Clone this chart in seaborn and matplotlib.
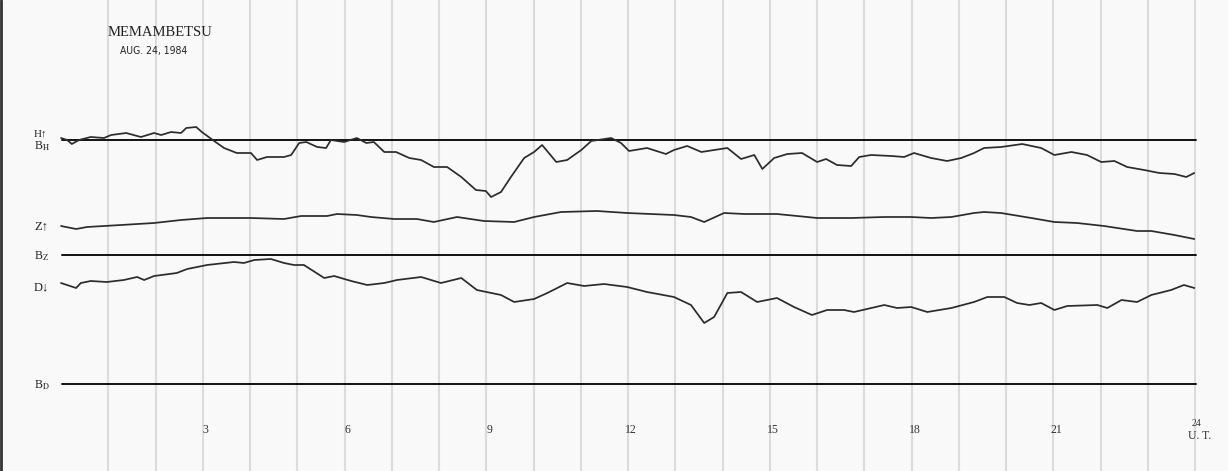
import matplotlib
matplotlib.use("Agg")
import matplotlib.pyplot as plt
import pandas as pd
import seaborn as sns

# magnetogram traces (hours UT, deflection above own baseline)
h_hours = [0.00, 0.13, 0.23, 0.38, 0.63, 0.91, 1.06, 1.38, 1.69, 1.97, 2.12, 2.33, 2.54, 2.65,
           2.86, 2.98, 3.24, 3.45, 3.72, 4.02, 4.15, 4.36, 4.72, 4.87, 5.04, 5.19, 5.42, 5.61,
           5.71, 5.99, 6.26, 6.46, 6.62, 6.84, 7.09, 7.37, 7.62, 7.89, 8.17, 8.47, 8.78, 8.99,
           9.10, 9.31, 9.52, 9.80, 10.01, 10.18, 10.48, 10.71, 11.01, 11.22, 11.64, 11.85,
           12.02, 12.40, 12.80, 12.97, 13.25, 13.55, 13.82, 14.10, 14.39, 14.67, 14.84, 15.09,
           15.37, 15.68, 16.00, 16.19, 16.42, 16.72, 16.89, 17.14, 17.57, 17.84, 18.05, 18.41,
           18.75, 19.05, 19.32, 19.53, 19.89, 20.34, 20.74, 21.02, 21.38, 21.71, 22.01, 22.29,
           22.56, 22.92, 23.24, 23.56, 23.81, 23.98]
h_dev = [2, 0, -4, 0, 3, 2, 5, 7, 3, 7, 5, 8, 7, 12,
         13, 8, -1, -8, -13, -13, -20, -17, -17, -15, -3, -2, -7, -8,
         0, -2, 2, -3, -2, -12, -12, -18, -20, -27, -27, -37, -50, -51,
         -57, -52, -37, -18, -12, -5, -22, -20, -10, -1, 2, -3,
         -11, -8, -14, -10, -6, -12, -10, -8, -19, -15, -29, -18,
         -14, -13, -22, -19, -25, -26, -17, -15, -16, -17, -13, -18,
         -21, -18, -13, -8, -7, -4, -8, -15, -12, -15, -22, -21,
         -27, -30, -33, -34, -37, -33]

z_hours = [0.00, 0.32, 0.55, 1.27, 1.97, 2.54, 3.09, 3.66, 4.02, 4.72, 5.08, 5.63, 5.84, 6.26,
           6.56, 7.05, 7.53, 7.89, 8.38, 8.95, 9.59, 10.01, 10.58, 11.34, 11.98, 12.97, 13.33,
           13.61, 14.03, 14.46, 15.15, 16.00, 16.72, 17.42, 17.99, 18.41, 18.84, 19.32, 19.53,
           19.89, 20.53, 21.02, 21.50, 22.07, 22.77, 23.07, 23.56, 23.98]
z_dev = [29, 26, 28, 30, 32, 35, 37, 37, 37, 36, 39, 39, 41, 40,
         38, 36, 36, 33, 38, 34, 33, 38, 43, 44, 42, 40, 38,
         33, 42, 41, 41, 37, 37, 38, 38, 37, 38, 42, 43,
         42, 37, 33, 32, 29, 24, 24, 20, 16]

d_hours = [0.00, 0.32, 0.42, 0.63, 0.97, 1.33, 1.61, 1.76, 1.97, 2.45, 2.67, 3.09, 3.66, 3.87,
           4.09, 4.44, 4.72, 4.93, 5.14, 5.57, 5.78, 6.14, 6.48, 6.84, 7.11, 7.62, 8.04, 8.47,
           8.80, 9.31, 9.59, 10.01, 10.29, 10.71, 11.07, 11.49, 11.98, 12.40, 12.97, 13.33,
           13.61, 13.82, 14.10, 14.39, 14.73, 15.15, 15.51, 15.89, 16.21, 16.57, 16.78, 17.42,
           17.69, 17.99, 18.33, 18.84, 19.32, 19.60, 19.96, 20.23, 20.49, 20.74, 21.02, 21.29,
           21.93, 22.14, 22.44, 22.77, 23.07, 23.49, 23.76, 23.98]
d_dev = [101, 96, 101, 103, 102, 104, 107, 104, 108, 111, 115, 119, 122, 121,
         124, 125, 121, 119, 119, 106, 108, 103, 99, 101, 104, 107, 101, 106,
         94, 89, 82, 85, 91, 101, 98, 100, 97, 92, 87, 79,
         61, 67, 91, 92, 82, 86, 77, 69, 74, 74, 72, 79,
         76, 77, 72, 76, 82, 87, 87, 81, 79, 81, 74, 78,
         79, 76, 84, 82, 89, 94, 99, 96]

hour_ticks = [3, 6, 9, 12, 15, 18, 21]

# layout on the sheet (pixels of the 1228x471 image)
W, H = 1228, 471
X0_PX, PX_PER_HOUR = 61, 47.26
BASE_H, BASE_Z, BASE_D = 140, 255, 384

SERIF = ["Liberation Serif", "DejaVu Serif"]
INK = "#2b2b2b"


def hx(px):
    return (px - X0_PX) / PX_PER_HOUR


def main():
    sns.set_theme(style="white")
    plt.rcParams["mathtext.fontset"] = "stix"

    fig = plt.figure(figsize=(W / 100, H / 100), dpi=100, facecolor="#f9f9f9")
    ax = fig.add_axes([0, 0, 1, 1])
    ax.set_facecolor("#f9f9f9")
    ax.set_xlim(hx(0), hx(W))
    ax.set_ylim(-H, 0)
    ax.axis("off")

    # paper grid, one line per hour
    for k in range(1, 25):
        ax.axvline(k, color="#dcdcdc", lw=1.5, zorder=0)
    ax.axvline(hx(1.2), color="#333333", lw=2.0, zorder=0)

    # baselines
    for base in (BASE_H, BASE_Z, BASE_D):
        ax.plot([hx(62), hx(1196)], [-base, -base], color="#111111", lw=1.4, zorder=2)

    traces = pd.concat([
        pd.DataFrame({"hour": h_hours, "y": [d - BASE_H for d in h_dev], "comp": "H"}),
        pd.DataFrame({"hour": z_hours, "y": [d - BASE_Z for d in z_dev], "comp": "Z"}),
        pd.DataFrame({"hour": d_hours, "y": [d - BASE_D for d in d_dev], "comp": "D"}),
    ])
    sns.lineplot(data=traces, x="hour", y="y", units="comp", estimator=None,
                 color=INK, lw=1.25, ax=ax, legend=False, zorder=3)

    # left labels
    lab = dict(family=SERIF, color="#222222", va="center", ha="left")
    ax.text(hx(34), -134, "H\u2191", fontsize=8, **lab)
    ax.text(hx(34), -146, "B$_{\\mathrm{H}}$", fontsize=8.5, **lab)
    ax.text(hx(34), -226, "Z\u2191", fontsize=9, **lab)
    ax.text(hx(34), -256, "B$_{\\mathrm{Z}}$", fontsize=8.5, **lab)
    ax.text(hx(34), -287, "D\u2193", fontsize=9, **lab)
    ax.text(hx(34), -385, "B$_{\\mathrm{D}}$", fontsize=8.5, **lab)

    # header
    ax.text(hx(108), -33, "MEMAMBETSU", family=SERIF, fontsize=10.5,
            color="#222222", va="center", ha="left")
    ax.text(hx(120), -51, "AUG. 24, 1984", family=["Liberation Sans Narrow", "DejaVu Sans"],
            fontsize=7.5, color="#222222", va="center", ha="left", fontstretch="condensed")

    # hour labels
    for t in hour_ticks:
        ax.text(t + hx(64), -430, str(t), family=SERIF, fontsize=8.5,
                color="#333333", va="center", ha="center")
    ax.text(24 + hx(62), -423, "24", family=SERIF, fontsize=7,
            color="#333333", va="center", ha="center")
    ax.text(24 + hx(65), -436, "U. T.", family=SERIF, fontsize=8.5,
            color="#333333", va="center", ha="center")

    fig.savefig("out.png", dpi=100, facecolor=fig.get_facecolor())
    plt.close(fig)


if __name__ == "__main__":
    main()
